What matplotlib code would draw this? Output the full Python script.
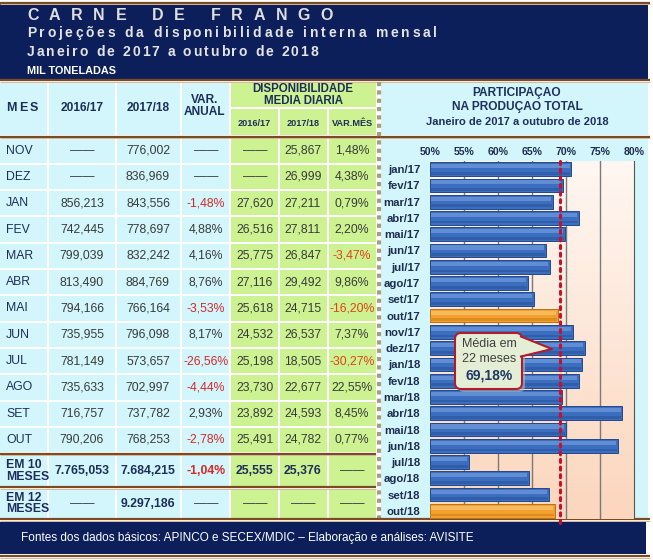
import numpy as np
import matplotlib
matplotlib.use('Agg')
import matplotlib.pyplot as plt
from matplotlib.patches import Rectangle, FancyBboxPatch, Polygon
from matplotlib.colors import LinearSegmentedColormap

# ---- data ----
meses = ['NOV', 'DEZ', 'JAN', 'FEV', 'MAR', 'ABR', 'MAI', 'JUN', 'JUL', 'AGO', 'SET', 'OUT']
prod_1617 = ['——', '——', '856,213', '742,445', '799,039', '813,490', '794,166', '735,955',
             '781,149', '735,633', '716,757', '790,206']
prod_1718 = ['776,002', '836,969', '843,556', '778,697', '832,242', '884,769', '766,164', '796,098',
             '573,657', '702,997', '737,782', '768,253']
var_anual = ['——', '——', '-1,48%', '4,88%', '4,16%', '8,76%', '-3,53%', '8,17%',
             '-26,56%', '-4,44%', '2,93%', '-2,78%']
dia_1617 = ['——', '——', '27,620', '26,516', '25,775', '27,116', '25,618', '24,532',
            '25,198', '23,730', '23,892', '25,491']
dia_1718 = ['25,867', '26,999', '27,211', '27,811', '26,847', '29,492', '24,715', '26,537',
            '18,505', '22,677', '24,593', '24,782']
var_mes = ['1,48%', '4,38%', '0,79%', '2,20%', '-3,47%', '9,86%', '-16,20%', '7,37%',
           '-30,27%', '22,55%', '8,45%', '0,77%']
tot10 = ['EM 10\nMESES', '7.765,053', '7.684,215', '-1,04%', '25,555', '25,376', '——']
tot12 = ['EM 12\nMESES', '——', '9.297,186', '——', '——', '——', '——']

periodos = ['jan/17', 'fev/17', 'mar/17', 'abr/17', 'mai/17', 'jun/17', 'jul/17', 'ago/17',
            'set/17', 'out/17', 'nov/17', 'dez/17', 'jan/18', 'fev/18', 'mar/18', 'abr/18',
            'mai/18', 'jun/18', 'jul/18', 'ago/18', 'set/18', 'out/18']
participacao = [70.8, 69.5, 68.1, 71.9, 69.8, 67.0, 67.6, 64.4, 65.3, 68.8, 71.0,
                72.8, 72.4, 71.9, 69.4, 78.3, 70.0, 77.6, 55.7, 64.5, 67.5, 68.4]
destaque = ['out/17', 'out/18']
media = 69.18

NAVY = '#0c1f5b'
CYAN = '#d2f6fb'
GREEN = '#cdf291'
TXT = '#3a3a3a'
HEAD = '#1c2e5c'
RED = '#d42a2a'
ORANGE_RED = '#e0401a'
BROWN = '#7b4b26'
SANS = ['Liberation Sans', 'DejaVu Sans']

fig = plt.figure(figsize=(6.53, 5.6), dpi=100)
bg = fig.add_axes([0, 0, 1, 1])
bg.set_xlim(0, 653)
bg.set_ylim(560, 0)
bg.axis('off')


def rect(x0, y0, x1, y1, color, z=1):
    bg.add_patch(Rectangle((x0, y0), x1 - x0, y1 - y0, facecolor=color, edgecolor='none', zorder=z))


def brown_line(y, x0, x1):
    bg.plot([x0, x1], [y, y], color=BROWN, lw=1.6, solid_capstyle='butt', zorder=3)
    bg.plot([x0, x1], [y + 1.5, y + 1.5], color='#d8b894', lw=0.7, solid_capstyle='butt', zorder=3)


def spaced(x, y, s, width, **kw):
    r = fig.canvas.get_renderer()
    ws = []
    for ch in s:
        if ch == ' ':
            ws.append(0.3 * kw['size'] * 100 / 72)
            continue
        t = bg.text(0, 0, ch, **kw)
        ws.append(t.get_window_extent(r).width)
        t.remove()
    gap = (width - sum(ws)) / (len(s) - 1)
    cx = x
    for ch, w in zip(s, ws):
        if ch != ' ':
            bg.text(cx, y, ch, ha='left', va='center', zorder=4, **kw)
        cx += w + gap


# header band
rect(0, 4, 648, 79, NAVY)
brown_line(2.5, 0, 650)
spaced(27, 15, 'CARNE DE FRANGO', 306, size=11.5, weight='bold', color='#dedede', family=SANS)
spaced(27, 33, 'Projeções da disponibilidade interna mensal', 410, size=10, weight='bold',
       color='#e4e4e4', family=SANS)
spaced(27, 52, 'Janeiro de 2017 a outubro de 2018', 291, size=10, weight='bold',
       color='#e4e4e4', family=SANS)
bg.text(27, 71, 'MIL TONELADAS', size=7.8, weight='bold', color='white', family=SANS,
        va='center', ha='left')
brown_line(80, 0, 650)

# table cells
cols = [(0, 47), (49, 115), (117, 180), (182, 229), (231, 278), (280, 327), (329, 376)]
for i, (x0, x1) in enumerate(cols[:4]):
    rect(x0, 83, x1, 135, CYAN)
rect(231, 83, 376, 107, GREEN)
for x0, x1 in cols[4:]:
    rect(x0, 109, x1, 135, GREEN)

hk = dict(color=HEAD, weight='bold', family=SANS, ha='center', va='center', zorder=4)
spaced(6, 108, 'MES', 32, size=9, weight='bold', color=HEAD, family=SANS)
bg.text(82, 108, '2016/17', size=8.6, **hk)
bg.text(148, 108, '2017/18', size=8.6, **hk)
bg.text(205, 106, 'VAR.\nANUAL', size=8.6, linespacing=0.95, **hk)
bg.text(303, 95, 'DISPONIBILIDADE\nMEDIA DIARIA', size=8.3, linespacing=0.95, **hk)
for (x0, x1), lab in zip(cols[4:], ['2016/17', '2017/18', 'VAR.MÊS']):
    bg.text((x0 + x1) / 2, 123, lab, size=6.6, **hk)
brown_line(136.5, 0, 650)

centers = [24, 82, 148, 206, 255, 303, 352]
row_h = 26.3
for k in range(len(meses)):
    top = 138.5 + row_h * k
    for j, (x0, x1) in enumerate(cols):
        rect(x0, top, x1, top + row_h - 2, GREEN if j >= 4 else CYAN)
    yc = top + (row_h - 2) / 2
    bg.text(6, yc, meses[k], size=8.8, color=HEAD, family=SANS, ha='left', va='center', zorder=4)
    vals = [prod_1617[k], prod_1718[k], var_anual[k], dia_1617[k], dia_1718[k], var_mes[k]]
    for j, v in enumerate(vals, start=1):
        c = TXT
        if v.startswith('-'):
            c = ORANGE_RED if j == 6 else RED
        bg.text(centers[j], yc, v, size=8.8, color=c, family=SANS, ha='center', va='center', zorder=4)

brown_line(453.5, 0, 376)
for (y0, y1), row in [((456, 486), tot10), ((489.5, 518), tot12)]:
    for j, (x0, x1) in enumerate(cols):
        rect(x0, y0, x1, y1, GREEN if j >= 4 else CYAN)
    yc = (y0 + y1) / 2
    bg.text(6, yc, row[0], size=8.8, color=HEAD, weight='bold', family=SANS, ha='left', va='center',
            linespacing=0.9, zorder=4)
    for j, v in enumerate(row[1:], start=1):
        c = RED if v.startswith('-') else HEAD
        if v == '——':
            c = TXT
        bg.text(centers[j], yc, v, size=8.8, color=c, weight='bold' if v != '——' else 'normal',
                family=SANS, ha='center', va='center', zorder=4)
brown_line(487, 0, 376)

# right panel background
rect(381, 83, 648, 135, CYAN)
rect(381, 139, 648, 519, CYAN)
bg.plot([378.5, 378.5], [82, 519], color='#a89c80', lw=3, ls=(0, (1, 1)), zorder=3)
tk = dict(color='#1f2f5f', weight='bold', family=SANS, ha='center', va='center', zorder=4)
bg.text(517, 93, 'PARTICIPAÇAO', size=8.6, **tk)
bg.text(517, 107, 'NA PRODUÇAO TOTAL', size=8.6, **tk)
bg.text(517, 122, 'Janeiro de 2017 a outubro de 2018', size=8, **tk)

# footer
brown_line(519, 0, 650)
rect(0, 522, 646, 554, NAVY)
bg.text(21, 538, 'Fontes dos dados básicos: APINCO e SECEX/MDIC – Elaboração e análises: AVISITE',
        size=8.5, color='white', family=SANS, ha='left', va='center', zorder=4)
brown_line(556, 0, 650)

# ---- bar chart ----
ax = fig.add_axes([430 / 653, 1 - 519 / 560, 204 / 653, 358 / 560], zorder=2)
ax.set_xlim(50, 80)
ax.set_ylim(len(periodos) - 0.5, -0.5)
grad = LinearSegmentedColormap.from_list('bgpeach', ['#fff7f2', '#fcd6bd'])
ax.imshow(np.linspace(0, 1, 100).reshape(-1, 1), extent=[50, 80, len(periodos) - 0.5, -0.5],
          aspect='auto', cmap=grad, zorder=0)
for v in [55, 60, 65, 70, 75]:
    ax.axvline(v, color='#7a7a7a', lw=1, zorder=1)

y = np.arange(len(periodos))
vals = np.array(participacao)
is_hl = np.array([p in destaque for p in periodos])
face = np.where(is_hl, '#f3a02e', '#3c6ec0')
edge = np.where(is_hl, '#b87212', '#23488a')
light = np.where(is_hl, '#fcd184', '#7fa8e6')
dark = np.where(is_hl, '#d98a1c', '#2d5aa6')
bh = 0.84
ax.barh(y, vals - 50, left=50, height=bh, color=face, edgecolor=edge, lw=0.7, zorder=2)
ax.barh(y - bh * 0.22, vals - 50.35, left=50.1, height=bh * 0.3, color=light, alpha=0.55,
        lw=0, zorder=3)
ax.barh(y + bh * 0.3, vals - 50.2, left=50.05, height=bh * 0.2, color=dark, alpha=0.8,
        lw=0, zorder=3)
ax.plot([media, media], [-0.5, len(periodos) - 0.5 + 0.35], ls=(0, (1, 1.5)), lw=2.2,
        color='#c8102e', dash_capstyle='round', clip_on=False, zorder=4)

ax.xaxis.tick_top()
ax.set_xticks(np.arange(50, 81, 5))
ax.set_xticklabels(['%d%%' % v for v in range(50, 81, 5)])
ax.set_yticks(y)
ax.set_yticklabels(periodos)
ax.tick_params(length=0, labelcolor='#1f2d50')
ax.tick_params(axis='x', pad=3, labelsize=7.6)
ax.tick_params(axis='y', pad=7, labelsize=8.2)
for lab in ax.get_xticklabels() + ax.get_yticklabels():
    lab.set_family(SANS)
    lab.set_weight('bold')
for s in ['top', 'left', 'bottom']:
    ax.spines[s].set_visible(False)
ax.spines['right'].set_color('#555555')

# ---- callout ----
top = fig.add_axes([0, 0, 1, 1], zorder=5)
top.set_xlim(0, 653)
top.set_ylim(560, 0)
top.axis('off')
top.add_patch(FancyBboxPatch((458, 336), 67, 56, boxstyle='round,pad=0,rounding_size=6',
                             facecolor='#b9b9b9', edgecolor='none', alpha=0.6, zorder=1))
top.add_patch(FancyBboxPatch((455, 333), 67, 56, boxstyle='round,pad=0,rounding_size=6',
                             facecolor='#e4eed4', edgecolor='#b01c2e', lw=1.5, zorder=2))
top.add_patch(Polygon([(520, 337), (552, 349), (520, 356)], closed=True,
                      facecolor='#e4eed4', edgecolor='none', zorder=3))
top.plot([521, 552, 521], [336.5, 349, 356.5], color='#b01c2e', lw=1.5, zorder=4)
top.text(489, 344, 'Média em', size=9, color='#404040', family=SANS, ha='center', va='center', zorder=5)
top.text(489, 359, '22 meses', size=9, color='#404040', family=SANS, ha='center', va='center', zorder=5)
top.text(489, 376, ('%.2f%%' % media).replace('.', ','), size=10, weight='bold', color='#1f3864',
         family=SANS, ha='center', va='center', zorder=5)

fig.savefig('out.png', dpi=100)
